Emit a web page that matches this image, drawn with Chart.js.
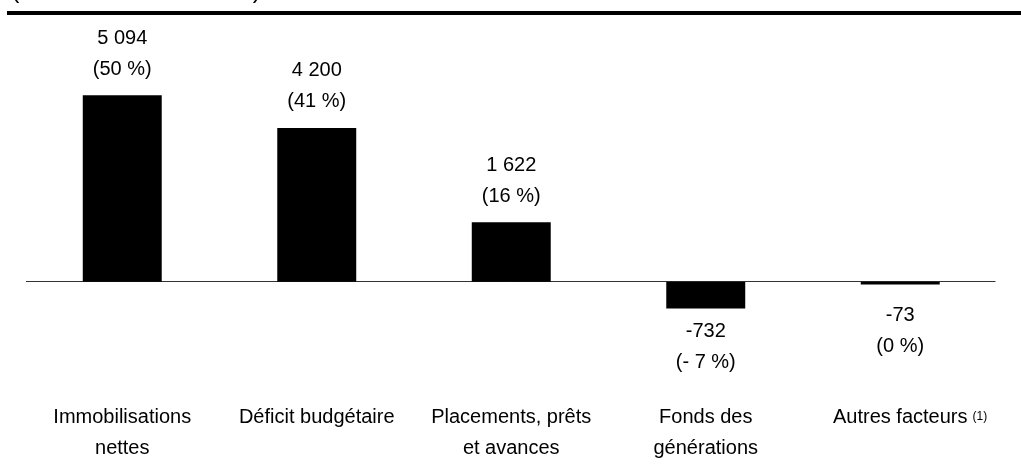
<!DOCTYPE html>
<html>
<head>
<meta charset="utf-8">
<script src="https://cdn.jsdelivr.net/npm/chart.js@4"></script>
<style>
  html, body { margin: 0; padding: 0; background: #fff; }
  #wrap { width: 1021px; height: 476px; position: relative; }
</style>
</head>
<body>
<div id="wrap"><canvas id="chart"></canvas></div>
<script>
const categories = [
    ['Immobilisations', 'nettes'],
    'Déficit budgétaire',
    ['Placements, prêts', 'et avances'],
    ['Fonds des', 'générations'],
    'Autres facteurs'
];
const values = [5094, 4200, 1622, -732, -73];
const valueLabels = ['5 094', '4 200', '1 622', '-732', '-73'];
const shareLabels = ['(50 %)', '(41 %)', '(16 %)', '(- 7 %)', '(0 %)'];
const noteMark = '(1)';
const unitTitle = '(en millions de dollars)';

const FONT = "'Liberation Sans', Arial, sans-serif";

Chart.defaults.font.family = FONT;
Chart.defaults.color = '#000';

// Decorations: cut-off unit line, rule at the top, zero line, bar labels
const decorPlugin = {
    id: 'decor',
    beforeDatasetsDraw(chart) {
        const { ctx, chartArea, scales } = chart;
        const y0 = Math.round(scales.y.getPixelForValue(0)) - 0.5;
        ctx.save();
        ctx.strokeStyle = '#333';
        ctx.lineWidth = 1;
        ctx.beginPath();
        ctx.moveTo(chartArea.left + 1, y0);
        ctx.lineTo(chartArea.right - 2, y0);
        ctx.stroke();
        ctx.restore();
    },
    afterDraw(chart) {
        const { ctx, chartArea, scales } = chart;
        ctx.save();

        // title mostly scrolled out of view, only the parentheses show
        ctx.fillStyle = '#000';
        ctx.font = '25px ' + FONT;
        ctx.textAlign = 'left';
        ctx.textBaseline = 'alphabetic';
        ctx.fillText(unitTitle, 11, -2);

        // thick rule
        ctx.fillRect(7, 11, 1014, 4);

        // value labels
        ctx.font = '20px ' + FONT;
        ctx.textAlign = 'center';
        ctx.textBaseline = 'middle';
        const y0 = scales.y.getPixelForValue(0);
        chart.getDatasetMeta(0).data.forEach((bar, i) => {
            if (values[i] >= 0) {
                ctx.fillText(valueLabels[i], bar.x, bar.y - 57);
                ctx.fillText(shareLabels[i], bar.x, bar.y - 26);
            } else {
                const top = Math.max(bar.y + 23, y0 + 34);
                ctx.fillText(valueLabels[i], bar.x, top);
                ctx.fillText(shareLabels[i], bar.x, top + 31);
            }
        });

        // superscript note on last category
        const last = categories.length - 1;
        const xl = scales.x.getPixelForValue(last);
        const w = ctx.measureText(categories[last]).width;
        ctx.font = '12px ' + FONT;
        ctx.textAlign = 'left';
        ctx.textBaseline = 'alphabetic';
        ctx.fillText(noteMark, xl + w / 2 + 5, chartArea.bottom + 47);
        ctx.restore();
    }
};

new Chart(document.getElementById('chart'), {
    type: 'bar',
    data: {
        labels: categories,
        datasets: [{
            data: values,
            backgroundColor: '#000',
            borderWidth: 0,
            barPercentage: 1,
            categoryPercentage: 0.406
        }]
    },
    options: {
        responsive: true,
        maintainAspectRatio: false,
        animation: false,
        layout: {
            padding: { left: 25, right: 23.5, top: 25.4, bottom: -17.3 }
        },
        plugins: {
            legend: { display: false },
            tooltip: { enabled: false }
        },
        scales: {
            x: {
                grid: { display: false, drawTicks: false },
                border: { display: false },
                ticks: {
                    padding: 29,
                    maxRotation: 0,
                    autoSkip: false,
                    color: '#000',
                    font: { size: 20, lineHeight: 1.55 }
                }
            },
            y: {
                display: false,
                min: -2500,
                max: 7000
            }
        }
    },
    plugins: [decorPlugin]
});
</script>
</body>
</html>
